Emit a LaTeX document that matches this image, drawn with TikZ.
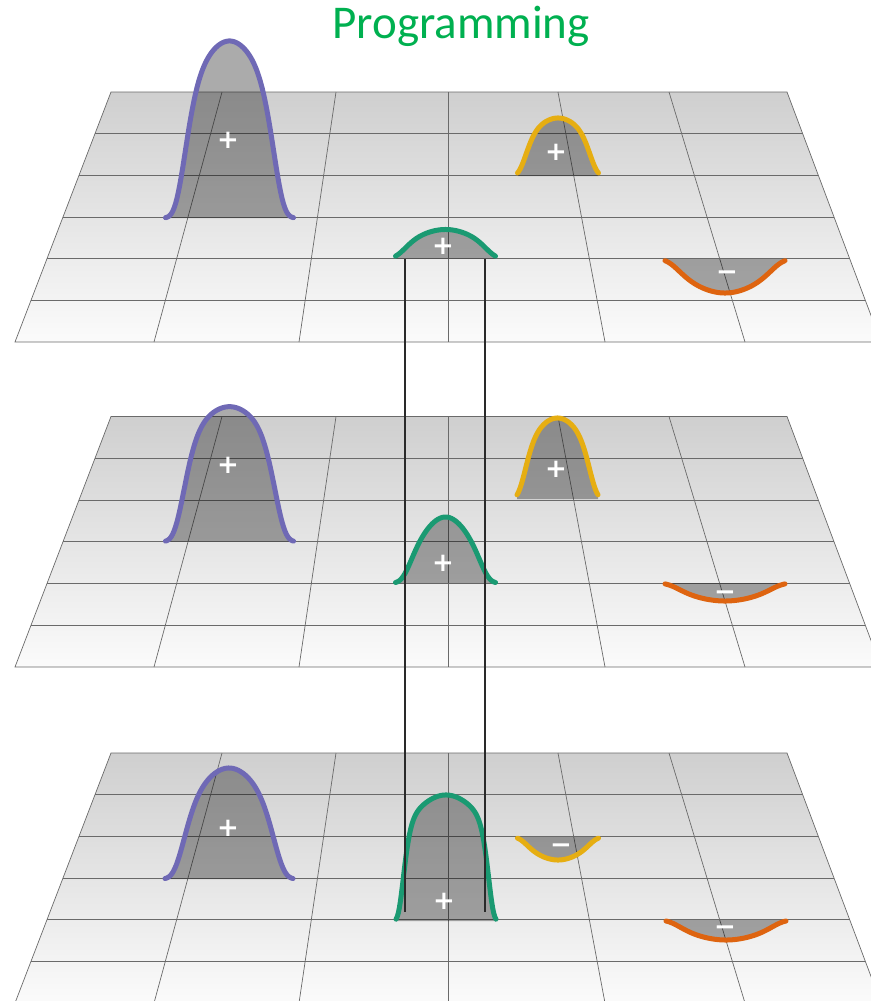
\documentclass[tikz,border=0pt]{standalone}
\usepackage{fontspec}
\setmainfont{Carlito}
\newfontfamily\labfont{DejaVu Sans}
\definecolor{titlegreen}{RGB}{0,176,80}
\definecolor{gridc}{HTML}{6A6A6A}
\definecolor{planetop}{HTML}{CFCFCF}
\definecolor{planebot}{HTML}{FBFBFB}
\definecolor{cpurple}{HTML}{6F69B5}
\definecolor{cyellow}{HTML}{E6AE12}
\definecolor{cgreen}{HTML}{1A9A72}
\definecolor{corange}{HTML}{DE6410}
\definecolor{vline}{HTML}{2A2A2A}
% #1 cx, #2 base y, #3 half width, #4 height, #5 s1, #6 s2, #7 half power, #8 colour
\newcommand\mybump[8]{%
  \fill[bumpfill] plot[domain=-#3:#3,samples=90]
    ({#1+\x},{#2-(#4)*exp(-(\x*\x/(#3*#3*#5*#5)) - (\x*\x/(#3*#3*#6*#6))^(#7))})
    -- (#1+#3,#2) -- (#1-#3,#2) -- cycle;
  \draw[bumpline,#8] plot[domain=-#3:#3,samples=90]
    ({#1+\x},{#2-(#4)*exp(-(\x*\x/(#3*#3*#5*#5)) - (\x*\x/(#3*#3*#6*#6))^(#7))});
}
\begin{document}
\begin{tikzpicture}[x=1pt,y=-1pt,
  gridline/.style={draw=gridc,line width=0.7pt},
  bumpfill/.style={fill=black,fill opacity=0.33},
  bumpline/.style={line width=5pt,line cap=round,line join=round},
  lab/.style={text=white,font=\labfont\fontsize{26}{26}\selectfont\bfseries,inner sep=0pt},
  titlelab/.style={text=titlegreen,font=\fontsize{47}{47}\selectfont,inner sep=0pt,anchor=base},
  connector/.style={draw=vline,line width=2pt}]
\useasboundingbox (0,0) rectangle (870,1001);
\node[titlelab] (title) at (461,38) {Programming};
% planes
\foreach \t/\b in {92/342, 416.5/667, 753/1003}{
  \shade[top color=planetop,bottom color=planebot] (111,\t) -- (787,\t) -- (881,\b) -- (15,\b) -- cycle;
  \foreach \a/\c in {222/154, 336/299, 448/448, 558/605, 669/745}
    \draw[gridline] (\a,\t) -- (\c,\b);
  \foreach \i in {1,...,5}{
    \pgfmathsetmacro\yy{\t+\i*(\b-\t)/6}
    \pgfmathsetmacro\xl{111-96*\i/6}
    \pgfmathsetmacro\xr{787+94*\i/6}
    \draw[gridline] (\xl,\yy) -- (\xr,\yy);
  }
  \draw[gridline] (111,\t) -- (787,\t) -- (881,\b) -- (15,\b) -- cycle;
}
% plane 1
\mybump{229.5}{218}{64}{177}{1.1}{0.756}{3}{cpurple}
\mybump{558}{176}{40.5}{58}{1.2}{0.873}{3}{cyellow}
\mybump{445.5}{258.5}{50}{29}{1.05}{0.925}{3}{cgreen}
\mybump{725}{259}{60}{-34}{0.944}{0.9}{3}{corange}
% plane 2
\mybump{229.5}{541.7}{64}{135}{1.22}{0.77}{3}{cpurple}
\mybump{557.5}{499}{40.5}{81}{1.2}{0.873}{3}{cyellow}
\mybump{445.5}{583}{50}{66}{0.81}{0.82}{3}{cgreen}
\mybump{725}{583}{60}{-18}{0.944}{0.9}{3}{corange}
% plane 3
\mybump{229}{879}{64}{111}{1.0}{0.78}{3}{cpurple}
\mybump{446}{921}{50}{126}{1.6}{0.874}{5}{cgreen}
\mybump{558}{837}{40.5}{-23}{0.944}{0.9}{3}{cyellow}
\mybump{726}{920}{60}{-20}{0.944}{0.9}{3}{corange}
% connectors
\coordinate (la) at (404.5,258.5);
\coordinate (lb) at (404.5,912);
\coordinate (ra) at (485,258.5);
\coordinate (rb) at (485,912);
\draw[connector] (la) -- (lb);
\draw[connector] (ra) -- (rb);
% labels
\node[lab] (p1a) at (228,140) {+};
\node[lab] (p1b) at (556,152) {+};
\node[lab] (p1c) at (443,246) {+};
\node[lab] (p1d) at (727,272) {−\vphantom{+}};
\node[lab] (p2a) at (228,465) {+};
\node[lab] (p2b) at (556,469) {+};
\node[lab] (p2c) at (443,563) {+};
\node[lab] (p2d) at (725,592) {−\vphantom{+}};
\node[lab] (p3a) at (228,828) {+};
\node[lab] (p3b) at (444,901) {+};
\node[lab] (p3c) at (561,845) {−\vphantom{+}};
\node[lab] (p3d) at (725,927) {−\vphantom{+}};
\end{tikzpicture}
\end{document}
